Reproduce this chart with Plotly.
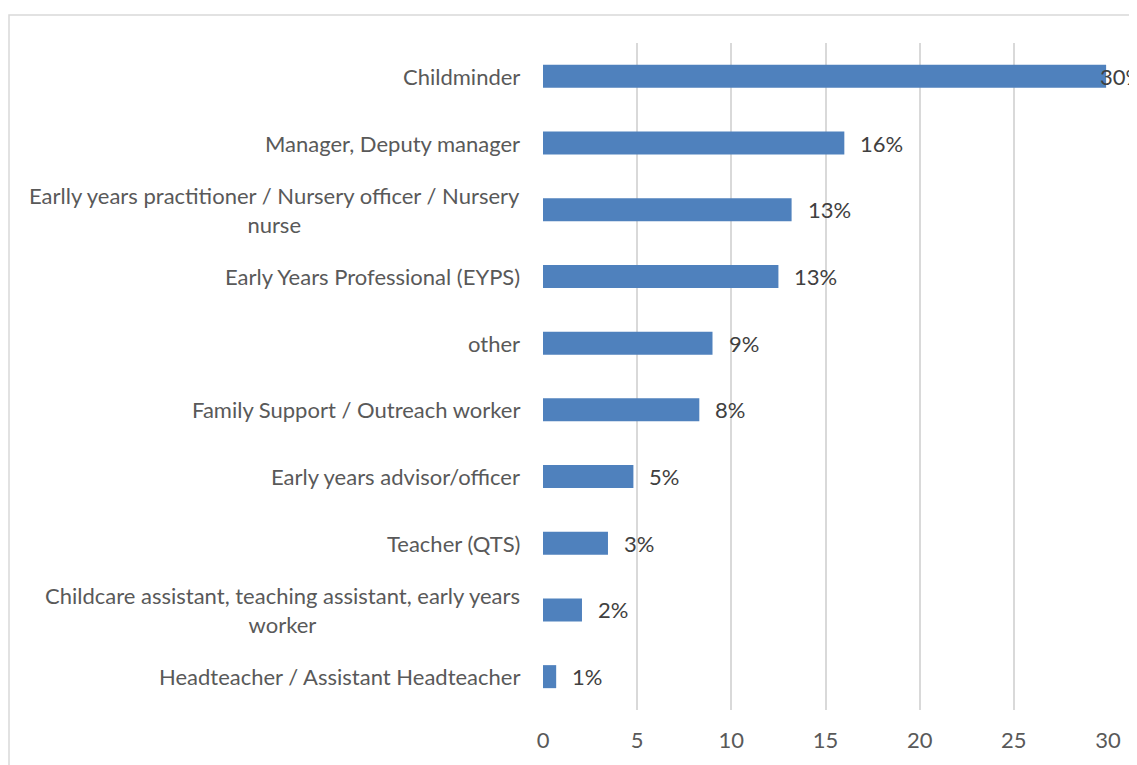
import plotly.graph_objects as go

categories = [
    "Childminder",
    "Manager, Deputy manager",
    "Earlly years practitioner / Nursery officer / Nursery<br>nurse",
    "Early Years Professional (EYPS)",
    "other",
    "Family Support / Outreach worker",
    "Early years advisor/officer",
    "Teacher (QTS)",
    "Childcare assistant, teaching assistant, early years<br>worker",
    "Headteacher / Assistant Headteacher",
]
values = [29.9, 16.0, 13.2, 12.5, 9.0, 8.3, 4.8, 3.45, 2.07, 0.7]
labels = ["30%", "16%", "13%", "13%", "9%", "8%", "5%", "3%", "2%", "1%"]
x_ticks = [0, 5, 10, 15, 20, 25, 30]

# page body has an 8px margin, so the figure is drawn 8px in from the window edge
W, H = 1129, 757
L, R, T, B = 535, 29, 35, 53
FONT = "Lato"
FS = 22

fig = go.Figure(go.Bar(
    x=values, y=categories, orientation="h",
    marker=dict(color="#4f81bd", line=dict(width=0)),
    hoverinfo="skip",
))

annotations = []
for c in categories:
    annotations.append(dict(
        x=0, xref="paper", y=c, yref="y", text=c, showarrow=False,
        xanchor="right", align="center", xshift=-21,
        font=dict(family=FONT, size=FS, color="#595959"),
    ))
xmax = max(x_ticks)
for v, lab, c in zip(values, labels, categories):
    annotations.append(dict(
        x=v, xref="x", y=c, yref="y", text=lab, showarrow=False,
        xanchor="left", xshift=(-8 if v > xmax - 1 else 14),
        font=dict(family=FONT, size=FS, color="#404040"),
    ))

pw, ph = W - L - R, H - T - B
fig.update_layout(
    width=W, height=H,
    margin=dict(l=L, r=R, t=T, b=B),
    paper_bgcolor="white", plot_bgcolor="white",
    bargap=0.655, showlegend=False,
    font=dict(family=FONT, size=FS, color="#595959"),
    xaxis=dict(range=[0, 30], tickvals=x_ticks, showgrid=True,
               gridcolor="#d9d9d9", gridwidth=1.5, zeroline=False,
               showline=False, ticks="", ticklabelstandoff=15,
               tickfont=dict(family=FONT, size=FS, color="#595959")),
    yaxis=dict(autorange="reversed", showticklabels=False, showgrid=False,
               zeroline=False, showline=False, ticks=""),
    annotations=annotations,
    shapes=[dict(type="rect", xref="paper", yref="paper",
                 x0=(1 - L) / pw, x1=1.3, y0=-0.3, y1=1 + (T - 7) / ph,
                 line=dict(color="#d9d9d9", width=1.5), layer="below")],
)
fig.write_html("out.html")
